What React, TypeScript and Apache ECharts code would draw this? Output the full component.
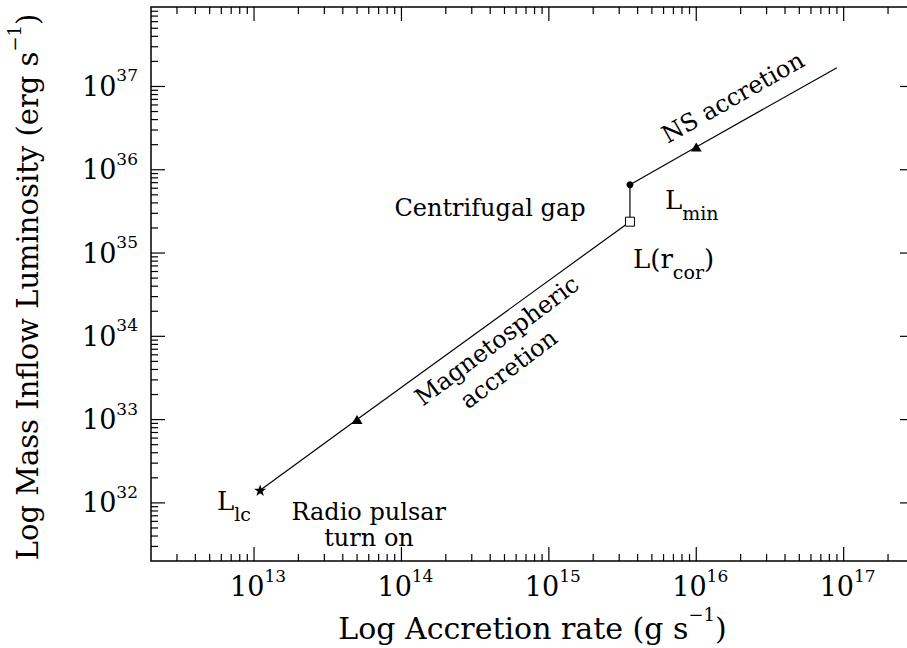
import React, { useEffect, useRef } from 'react';
import * as echarts from 'echarts';

// ---- data ----
const accretionRate = [1.1e13, 5e13, 3.55e15, 3.55e15, 1e16, 9e16]; // g s^-1
const luminosity = [1.42e32, 1e33, 2.38e35, 6.6e35, 1.88e36, 1.68e37]; // erg s^-1
const pointSymbols = ['star', 'triangle', 'square', 'circle', 'triangle', 'none'];

const xRange = [2e12, 3e17];
const yRange = [2e31, 9e37];
const xDecades = [12, 13, 14, 15, 16, 17];
const yDecades = [31, 32, 33, 34, 35, 36, 37];
const tickMultipliers = [1, 2, 3, 4, 5, 6, 7, 8, 9];

const xTitle = ['Log Accretion rate (g s', '−1', ')'];
const yTitle = ['Log Mass Inflow Luminosity (erg s', '−1', ')'];

const FONT = 'DejaVu Serif';
const STAR_PATH =
  'path://M0,-10L2.35,-3.24L9.51,-3.09L3.8,1.24L5.88,8.09L0,4L-5.88,8.09L-3.8,1.24L-9.51,-3.09L-2.35,-3.24Z';

const symbolSpecs: Record<string, any> = {
  star: { symbol: STAR_PATH, symbolSize: 12, symbolKeepAspect: true, itemStyle: { color: '#000' } },
  triangle: { symbol: 'triangle', symbolSize: [11, 9], itemStyle: { color: '#000' } },
  square: { symbol: 'rect', symbolSize: 9, itemStyle: { color: '#fff', borderColor: '#000', borderWidth: 1 } },
  circle: { symbol: 'circle', symbolSize: 7, itemStyle: { color: '#000' } },
  none: { symbol: 'none' },
};

function powLabel(v: number) {
  const l = Math.log10(v);
  const e = Math.round(l);
  if (Math.abs(l - e) > 1e-6) return '';
  return `{b|10}{s|${e}}`;
}

function buildTicks() {
  const data: number[][] = [];
  xDecades.forEach((k) =>
    tickMultipliers.forEach((m) => {
      const v = m * Math.pow(10, k);
      if (v > xRange[0] * 1.0001 && v < xRange[1] * 0.9999) data.push([v, yRange[0], m === 1 ? 0 : 1]);
    })
  );
  yDecades.forEach((k) =>
    tickMultipliers.forEach((m) => {
      const v = m * Math.pow(10, k);
      if (v > yRange[0] * 1.0001 && v < yRange[1] * 0.9999) data.push([xRange[0], v, m === 1 ? 2 : 3]);
    })
  );
  return data;
}

function textEl(text: string, x: number, y: number, deg: number, extra: any = {}) {
  return {
    type: 'text',
    x,
    y,
    rotation: (deg * Math.PI) / 180,
    silent: true,
    style: {
      text,
      fontFamily: FONT,
      fontSize: 24,
      fill: '#000',
      align: 'center',
      textAlign: 'center',
      verticalAlign: 'middle',
      textVerticalAlign: 'middle',
      ...extra,
    },
  };
}

function subLabel(main: string, sub: string, tail: string, left: number, top: number) {
  return {
    type: 'text',
    x: left,
    y: top,
    silent: true,
    style: {
      text: `{m|${main}}{s|${sub}}` + (tail ? `{m|${tail}}` : ''),
      fontFamily: FONT,
      fill: '#000',
      align: 'left',
      textAlign: 'left',
      verticalAlign: 'top',
      textVerticalAlign: 'top',
      rich: {
        m: { fontFamily: FONT, fontSize: 26, color: '#000', verticalAlign: 'top' },
        s: { fontFamily: FONT, fontSize: 19, color: '#000', verticalAlign: 'top', padding: [16, 0, 0, 0] },
      },
    },
  };
}

export default function App() {
  const ref = useRef<HTMLDivElement>(null);
  useEffect(() => {
    if (!ref.current) return;
    const chart = echarts.init(ref.current, undefined, { renderer: 'svg' });
    const lineData = accretionRate.map((x, i) => ({
      value: [x, luminosity[i]],
      ...symbolSpecs[pointSymbols[i]],
    }));
    const option: any = {
      animation: false,
      backgroundColor: '#fff',
      grid: {
        left: 151,
        top: 7,
        width: 763,
        height: 565,
        show: true,
        borderColor: '#000',
        borderWidth: 1.5,
        backgroundColor: 'transparent',
      },
      xAxis: {
        type: 'log',
        logBase: 10,
        min: xRange[0],
        max: xRange[1],
        axisLine: { show: false },
        axisTick: { show: false },
        splitLine: { show: false },
        axisLabel: {
          formatter: powLabel,
          margin: 6,
          color: '#000',
          rich: {
            b: { fontFamily: FONT, fontSize: 27, color: '#000', verticalAlign: 'top', padding: [6, 0, 6, 8] },
            s: { fontFamily: FONT, fontSize: 17, color: '#000', verticalAlign: 'top' },
          },
        },
        name: `{m|${xTitle[0]}}{s|${xTitle[1]}}{m|${xTitle[2]}}`,
        nameLocation: 'middle',
        nameGap: 39,
        nameTextStyle: {
          color: '#000',
          rich: {
            m: { fontFamily: FONT, fontSize: 30, color: '#000', verticalAlign: 'top', padding: [8, 0, 0, 0] },
            s: { fontFamily: FONT, fontSize: 18, color: '#000', verticalAlign: 'top' },
          },
        },
      },
      yAxis: {
        type: 'log',
        logBase: 10,
        min: yRange[0],
        max: yRange[1],
        axisLine: { show: false },
        axisTick: { show: false },
        splitLine: { show: false },
        axisLabel: {
          formatter: powLabel,
          margin: 13,
          color: '#000',
          rich: {
            b: { fontFamily: FONT, fontSize: 27, color: '#000', verticalAlign: 'top', padding: [6, 0, 6, 0] },
            s: { fontFamily: FONT, fontSize: 17, color: '#000', verticalAlign: 'top' },
          },
        },
      },
      series: [
        {
          type: 'custom',
          silent: true,
          clip: false,
          z: 4,
          data: buildTicks(),
          renderItem: (params: any, api: any) => {
            const cs = params.coordSys;
            const kind = api.value(2);
            const st = { stroke: '#000', lineWidth: 1.2 };
            if (kind < 2) {
              const px = api.coord([api.value(0), yRange[0]])[0];
              const len = kind === 0 ? 14 : 7;
              const b = cs.y + cs.height;
              return {
                type: 'group',
                children: [
                  { type: 'line', shape: { x1: px, y1: b, x2: px, y2: b - len }, style: st },
                  { type: 'line', shape: { x1: px, y1: cs.y, x2: px, y2: cs.y + len }, style: st },
                ],
              };
            }
            const py = api.coord([xRange[0], api.value(1)])[1];
            const len = kind === 2 ? 14 : 7;
            const r = cs.x + cs.width;
            return {
              type: 'group',
              children: [
                { type: 'line', shape: { x1: cs.x, y1: py, x2: cs.x + len, y2: py }, style: st },
                { type: 'line', shape: { x1: r, y1: py, x2: r - len, y2: py }, style: st },
              ],
            };
          },
        },
        {
          type: 'line',
          data: lineData,
          showAllSymbol: true,
          lineStyle: { color: '#000', width: 1.2 },
          itemStyle: { color: '#000' },
          z: 5,
        },
      ],
      graphic: [
        {
          type: 'text',
          x: 24,
          y: 287,
          rotation: Math.PI / 2,
          silent: true,
          style: {
            text: `{m|${yTitle[0]}}{s|${yTitle[1]}}{m|${yTitle[2]}}`,
            fontFamily: FONT,
            fill: '#000',
            align: 'center',
            textAlign: 'center',
            verticalAlign: 'middle',
            textVerticalAlign: 'middle',
            rich: {
              m: { fontFamily: FONT, fontSize: 29, color: '#000', verticalAlign: 'top', padding: [8, 0, 0, 0] },
              s: { fontFamily: FONT, fontSize: 18, color: '#000', verticalAlign: 'top' },
            },
          },
        },
        textEl('NS accretion', 733, 97.5, 29.6),
        textEl('Centrifugal gap', 490, 207.7, 0),
        textEl('Magnetospheric', 497, 340.8, 37),
        textEl('accretion', 508.8, 369.1, 37),
        textEl('Radio pulsar', 368.7, 512.4, 0),
        textEl('turn on', 369, 538.4, 0),
        subLabel('L', 'min', '', 665, 187.3),
        subLabel('L(r', 'cor', ')', 633, 246.3),
        subLabel('L', 'lc', '', 217, 488),
      ],
    };
    chart.setOption(option);
    return () => chart.dispose();
  }, []);
  return (
    <div
      style={{ position: 'absolute', left: 0, top: 0, width: 907, height: 648, overflow: 'hidden', background: '#fff' }}
    >
      <div ref={ref} style={{ position: 'absolute', left: 0, top: 0, width: 930, height: 648 }} />
    </div>
  );
}
